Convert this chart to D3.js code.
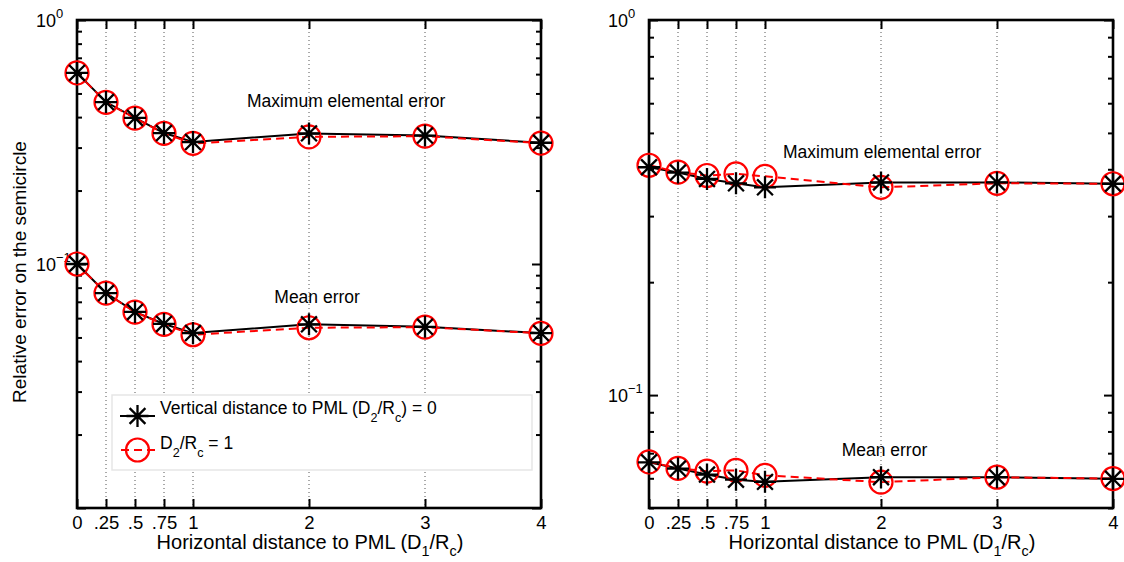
<!DOCTYPE html>
<html>
<head>
<meta charset="utf-8">
<script src="https://cdn.jsdelivr.net/npm/d3@7"></script>
<style>
  body { margin: 0; background: #fff; }
  svg text { font-family: "Liberation Sans", Arial, Helvetica, sans-serif; fill: #000; }
</style>
</head>
<body>
<div id="chart"></div>
<script>
// x positions (D1/Rc) and their tick labels
const xVals = [0, 0.25, 0.5, 0.75, 1, 2, 3, 4];
const xTickLabels = ["0", ".25", ".5", ".75", "1", "2", "3", "4"];

// left panel: D2/Rc = 0 (black) and D2/Rc = 1 (red)
const leftMaxD0  = [0.607, 0.461, 0.397, 0.344, 0.316, 0.343, 0.336, 0.314];
const leftMaxD1  = [0.607, 0.460, 0.396, 0.343, 0.312, 0.332, 0.334, 0.313];
const leftMeanD0 = [0.100, 0.076, 0.0636, 0.0568, 0.0521, 0.0566, 0.0553, 0.0521];
const leftMeanD1 = [0.100, 0.076, 0.0635, 0.0566, 0.0513, 0.0548, 0.0551, 0.0520];

// right panel
const rightMaxD0  = [0.405, 0.392, 0.377, 0.367, 0.358, 0.369, 0.369, 0.366];
const rightMaxD1  = [0.410, 0.393, 0.385, 0.389, 0.383, 0.358, 0.367, 0.366];
const rightMeanD0 = [0.0662, 0.0637, 0.0614, 0.0595, 0.0587, 0.0604, 0.0604, 0.0598];
const rightMeanD1 = [0.0664, 0.0638, 0.0627, 0.0630, 0.0611, 0.0586, 0.0604, 0.0599];

const W = 464, H = 488;

const svg = d3.select("#chart").append("svg")
    .attr("width", 1124)
    .attr("height", 562);

// text with sub/superscripts: parts = [[text, shift], ...]
function richText(sel, parts, size) {
    let prev = 0;
    parts.forEach(([t, shift]) => {
        sel.append("tspan")
            .attr("dy", shift - prev)
            .attr("font-size", shift === 0 ? size : size * 0.72)
            .text(t);
        prev = shift;
    });
}

function starPath(r) {
    const d = r * 0.72;
    return `M${-r},0L${r},0M0,${-r}L0,${r}M${-d},${-d}L${d},${d}M${-d},${d}L${d},${-d}`;
}

function drawPanel(cfg) {
    const g = svg.append("g").attr("transform", `translate(${cfg.left},20)`);
    const x = d3.scaleLinear().domain([0, 4]).range([0, W]);
    const y = d3.scaleLog().domain(cfg.yDomain).range([H, 0]);

    const all = y.ticks();
    const major = all.filter(d => Math.abs(Math.log10(d) - Math.round(Math.log10(d))) < 1e-9);
    const minor = all.filter(d => !major.includes(d));

    // dotted vertical grid
    g.append("g").selectAll("line")
        .data(xVals)
        .enter().append("line")
        .attr("x1", d => x(d)).attr("x2", d => x(d))
        .attr("y1", 0).attr("y2", H)
        .attr("stroke", "#555")
        .attr("stroke-width", 1)
        .attr("stroke-dasharray", "1,3");

    // legend background (left panel) goes over the grid
    if (cfg.legend) {
        g.append("rect")
            .attr("x", 35).attr("y", 375)
            .attr("width", 420).attr("height", 75)
            .attr("fill", "#fff")
            .attr("stroke", "#e6e6e6")
            .attr("stroke-width", 1.5);
    }

    // axes (ticks pointing inward, mirrored on all four sides)
    const styleAxis = a => {
        a.select(".domain").remove();
        a.selectAll(".tick line").attr("stroke", "#000").attr("stroke-width", 2);
    };
    g.append("g").attr("transform", `translate(0,${H})`)
        .call(d3.axisBottom(x).tickValues(xVals).tickSize(-9).tickPadding(8)
            .tickFormat((d, i) => xTickLabels[i]))
        .call(styleAxis)
        .selectAll("text").attr("font-size", 18.5).attr("font-family", "Liberation Sans, Arial, sans-serif").attr("fill", "#000");
    g.append("g")
        .call(d3.axisTop(x).tickValues(xVals).tickSize(-9).tickFormat(""))
        .call(styleAxis);
    g.append("g").call(d3.axisLeft(y).tickValues(major).tickSize(-9).tickFormat("")).call(styleAxis);
    g.append("g").call(d3.axisLeft(y).tickValues(minor).tickSize(-5).tickFormat("")).call(styleAxis);
    g.append("g").attr("transform", `translate(${W},0)`)
        .call(d3.axisRight(y).tickValues(major).tickSize(-9).tickFormat("")).call(styleAxis);
    g.append("g").attr("transform", `translate(${W},0)`)
        .call(d3.axisRight(y).tickValues(minor).tickSize(-5).tickFormat("")).call(styleAxis);

    // y tick labels 10^k (none at the bottom edge)
    major.filter(v => y(v) < H - 2).forEach(v => {
        const t = g.append("text")
            .attr("x", -41)
            .attr("y", y(v) + 7)
            .attr("font-size", 18);
        richText(t, [["10", 0], [String(Math.round(Math.log10(v))).replace("-", "\u2212"), -9]], 18);
    });

    // box
    g.append("rect")
        .attr("width", W).attr("height", H)
        .attr("fill", "none")
        .attr("stroke", "#000")
        .attr("stroke-width", 2.6);

    // series
    const line = d3.line().x((d, i) => x(xVals[i])).y(d => y(d));
    const groups = [[cfg.maxD0, cfg.maxD1], [cfg.meanD0, cfg.meanD1]];
    groups.forEach(([black, red]) => {
        g.append("path").datum(black).attr("d", line)
            .attr("fill", "none").attr("stroke", "#000").attr("stroke-width", 2);
        g.append("path").datum(red).attr("d", line)
            .attr("fill", "none").attr("stroke", "#f00").attr("stroke-width", 2)
            .attr("stroke-dasharray", "8,5");
    });
    groups.forEach(([black, red]) => {
        g.append("g").selectAll("circle")
            .data(red).enter().append("circle")
            .attr("cx", (d, i) => x(xVals[i])).attr("cy", d => y(d))
            .attr("r", 11.5)
            .attr("fill", "none").attr("stroke", "#f00").attr("stroke-width", 2.2);
        g.append("g").selectAll("path")
            .data(black).enter().append("path")
            .attr("transform", (d, i) => `translate(${x(xVals[i])},${y(d)})`)
            .attr("d", starPath(11))
            .attr("fill", "none").attr("stroke", "#000").attr("stroke-width", 2.3);
    });

    // annotations
    g.append("text")
        .attr("x", x(cfg.maxLabel[0])).attr("y", y(cfg.maxLabel[1]))
        .attr("text-anchor", "middle").attr("font-size", 17.5)
        .text("Maximum elemental error");
    g.append("text")
        .attr("x", x(cfg.meanLabel[0])).attr("y", y(cfg.meanLabel[1]))
        .attr("text-anchor", "middle").attr("font-size", 17.5)
        .text("Mean error");

    // x axis title
    const xt = g.append("text")
        .attr("x", W / 2 + 1).attr("y", 529)
        .attr("text-anchor", "middle").attr("font-size", 20);
    richText(xt, [["Horizontal distance to PML (D", 0], ["1", 7], ["/R", 0], ["c", 7], [")", 0]], 20);

    if (cfg.legend) {
        const lg = g.append("g");
        lg.append("line").attr("x1", 43).attr("x2", 78).attr("y1", 396).attr("y2", 396)
            .attr("stroke", "#000").attr("stroke-width", 2);
        lg.append("path").attr("transform", "translate(60.5,396)").attr("d", starPath(11))
            .attr("fill", "none").attr("stroke", "#000").attr("stroke-width", 2.3);
        const t1 = lg.append("text").attr("x", 83).attr("y", 394).attr("font-size", 17.5);
        richText(t1, [["Vertical distance to PML (D", 0], ["2", 8], ["/R", 0], ["c", 8], [") = 0", 0]], 17.5);

        lg.append("line").attr("x1", 43).attr("x2", 78).attr("y1", 430).attr("y2", 430)
            .attr("stroke", "#f00").attr("stroke-width", 2).attr("stroke-dasharray", "8,5")
            .attr("stroke-dashoffset", -1);
        lg.append("circle").attr("cx", 60.5).attr("cy", 430).attr("r", 11.5)
            .attr("fill", "none").attr("stroke", "#f00").attr("stroke-width", 2.2);
        const t2 = lg.append("text").attr("x", 83).attr("y", 429).attr("font-size", 17.5);
        richText(t2, [["D", 0], ["2", 8], ["/R", 0], ["c", 8], [" = 1", 0]], 17.5);
    }
}

drawPanel({
    left: 77, yDomain: [0.01, 1],
    maxD0: leftMaxD0, maxD1: leftMaxD1, meanD0: leftMeanD0, meanD1: leftMeanD1,
    maxLabel: [2.32, 0.44], meanLabel: [2.07, 0.0692],
    legend: true
});
drawPanel({
    left: 649, yDomain: [0.05, 1],
    maxD0: rightMaxD0, maxD1: rightMaxD1, meanD0: rightMeanD0, meanD1: rightMeanD1,
    maxLabel: [2.01, 0.428], meanLabel: [2.03, 0.0687],
    legend: false
});

// y axis title (left panel only)
svg.append("text")
    .attr("transform", "translate(26,272) rotate(-90)")
    .attr("text-anchor", "middle")
    .attr("font-size", 19)
    .text("Relative error on the semicircle");
</script>
</body>
</html>
